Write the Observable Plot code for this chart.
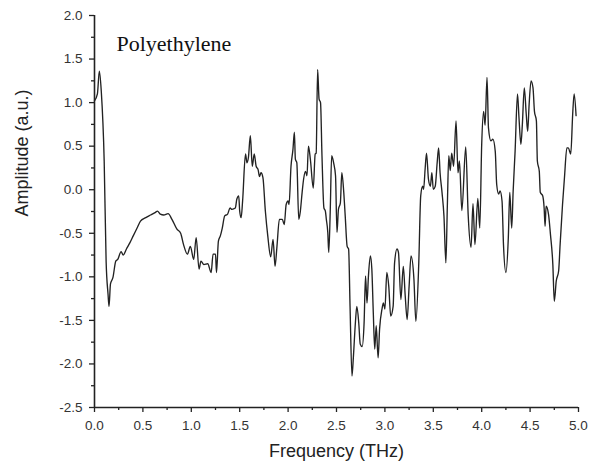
<!DOCTYPE html>
<html>
<head>
<meta charset="utf-8">
<script src="https://cdn.jsdelivr.net/npm/d3@7"></script>
<script src="https://cdn.jsdelivr.net/npm/@observablehq/plot@0.6"></script>
<style>
  html, body { margin: 0; padding: 0; background: #fff; }
</style>
</head>
<body>
<div id="chart"></div>
<script>
const title = "Polyethylene";
const xLabel = "Frequency (THz)";
const yLabel = "Amplitude (a.u.)";

const xMajorTicks = [0, 0.5, 1, 1.5, 2, 2.5, 3, 3.5, 4, 4.5, 5];
const xMinorTicks = [0.25, 0.75, 1.25, 1.75, 2.25, 2.75, 3.25, 3.75, 4.25, 4.75];
const yMajorTicks = [-2.5, -2, -1.5, -1, -0.5, 0, 0.5, 1, 1.5, 2];
const yMinorTicks = [-2.25, -1.75, -1.25, -0.75, -0.25, 0.25, 0.75, 1.25, 1.75];

const freq = [
  0.00, 0.03, 0.05, 0.07, 0.10, 0.12, 0.14, 0.15, 0.165, 0.19,
  0.22, 0.24, 0.275, 0.296, 0.33, 0.365, 0.40, 0.44, 0.475, 0.53,
  0.58, 0.63, 0.65, 0.68, 0.715, 0.76, 0.80, 0.85, 0.89, 0.92,
  0.96, 0.99, 1.025, 1.05, 1.08, 1.10, 1.13, 1.17, 1.205, 1.225,
  1.25, 1.26, 1.28, 1.30, 1.32, 1.345, 1.375, 1.40, 1.42, 1.455,
  1.47, 1.49, 1.50, 1.515, 1.53, 1.56, 1.575, 1.59, 1.61, 1.63,
  1.65, 1.67, 1.69, 1.705, 1.72, 1.74, 1.765, 1.79, 1.82, 1.845,
  1.865, 1.885, 1.91, 1.94, 1.96, 1.98, 2.00, 2.01, 2.03, 2.05,
  2.065, 2.075, 2.09, 2.11, 2.125, 2.145, 2.16, 2.18, 2.195, 2.21,
  2.23, 2.26, 2.28, 2.29, 2.305, 2.32, 2.335, 2.35, 2.37, 2.385,
  2.395, 2.41, 2.42, 2.435, 2.45, 2.47, 2.49, 2.505, 2.52, 2.54,
  2.555, 2.575, 2.59, 2.61, 2.625, 2.64, 2.66, 2.675, 2.695, 2.71,
  2.73, 2.745, 2.765, 2.785, 2.80, 2.815, 2.83, 2.85, 2.865, 2.88,
  2.895, 2.91, 2.93, 2.945, 2.97, 2.985, 3.00, 3.02, 3.04, 3.06,
  3.085, 3.10, 3.125, 3.14, 3.165, 3.19, 3.21, 3.23, 3.25, 3.27,
  3.30, 3.32, 3.35, 3.37, 3.39, 3.40, 3.415, 3.43, 3.45, 3.47,
  3.485, 3.50, 3.52, 3.54, 3.555, 3.57, 3.59, 3.61, 3.63, 3.645,
  3.66, 3.675, 3.69, 3.71, 3.735, 3.755, 3.77, 3.795, 3.835, 3.86,
  3.89, 3.91, 3.93, 3.96, 3.98, 4.00, 4.02, 4.035, 4.055, 4.07,
  4.095, 4.115, 4.14, 4.155, 4.175, 4.19, 4.21, 4.225, 4.25, 4.275,
  4.29, 4.31, 4.325, 4.345, 4.37, 4.385, 4.405, 4.42, 4.44, 4.46,
  4.475, 4.49, 4.51, 4.53, 4.545, 4.565, 4.575, 4.595, 4.605, 4.63,
  4.645, 4.655, 4.665, 4.69, 4.71, 4.735, 4.75, 4.77, 4.795, 4.81,
  4.835, 4.855, 4.88, 4.895, 4.92, 4.94, 4.955, 4.975
];

const amp = [
  1.02, 1.10, 1.36, 1.13, 0.33, -0.82, -1.20, -1.34, -1.08, -1.01,
  -0.82, -0.80, -0.71, -0.75, -0.68, -0.61, -0.53, -0.44, -0.36, -0.32,
  -0.29, -0.26, -0.245, -0.28, -0.29, -0.275, -0.34, -0.45, -0.50, -0.63,
  -0.74, -0.65, -0.80, -0.55, -0.91, -0.82, -0.86, -0.85, -0.95, -0.74,
  -0.74, -0.95, -0.59, -0.53, -0.44, -0.30, -0.28, -0.21, -0.225, -0.21,
  -0.11, -0.07, -0.245, -0.32, -0.13, 0.41, 0.31, 0.37, 0.62, 0.27,
  0.41, 0.27, 0.23, 0.15, 0.195, 0.14, -0.245, -0.53, -0.77, -0.57,
  -0.88, -0.65, -0.34, -0.34, -0.40, -0.17, -0.13, -0.17, 0.27, 0.46,
  0.66, 0.35, 0.31, -0.34, -0.26, -0.03, 0.12, 0.21, 0.16, 0.50,
  0.35, 0.02, 0.41, 0.42, 1.38, 1.04, 1.00, 0.39, -0.21, -0.245,
  -0.34, -0.49, -0.72, -0.26, 0.39, 0.31, 0.16, -0.49, -0.225, -0.15,
  0.195, -0.03, -0.30, -0.65, -0.68, -1.34, -2.14, -1.91, -1.53, -1.34,
  -1.53, -1.77, -1.80, -1.53, -0.99, -1.30, -0.99, -0.76, -0.91, -1.41,
  -1.83, -1.56, -1.93, -1.60, -1.37, -1.30, -1.37, -0.95, -1.11, -1.45,
  -1.34, -0.84, -0.68, -0.72, -1.26, -0.88, -1.22, -1.49, -1.11, -0.76,
  -1.03, -1.51, -0.84, -0.07, 0.04, 0.005, 0.23, 0.42, 0.12, 0.04,
  0.195, 0.005, 0.04, 0.31, 0.48, 0.195, -0.03, -0.30, -0.84, -0.19,
  0.39, 0.22, 0.42, 0.27, 0.79, 0.195, 0.33, -0.24, 0.49, -0.28,
  -0.66, -0.16, -0.63, -0.10, -0.44, 0.52, 0.90, 0.74, 1.29, 0.71,
  0.56, 0.58, 0.44, 0.06, -0.05, -0.015, -0.13, -0.63, -0.95, -0.55,
  -0.03, -0.44, -0.015, 0.44, 1.10, 0.83, 0.52, 0.75, 1.17, 0.87,
  0.67, 0.98, 1.25, 1.17, 0.90, 0.79, 0.33, 0.21, -0.03, -0.07,
  -0.21, -0.42, -0.19, -0.28, -0.51, -0.86, -1.28, -1.05, -0.93, -0.63,
  -0.17, 0.14, 0.48, 0.48, 0.41, 0.87, 1.10, 0.85
];

const data = freq.map((f, i) => ({f, a: amp[i]}));
const axisColor = "#222";
const fmt = d => d.toFixed(1);

const chart = Plot.plot({
  width: 590,
  height: 467,
  marginLeft: 94,
  marginRight: 12,
  marginTop: 15,
  marginBottom: 60,
  style: {fontFamily: "'Liberation Sans', Arial, sans-serif", background: "#fff", color: axisColor},
  x: {domain: [0, 5]},
  y: {domain: [-2.5, 2]},
  marks: [
    Plot.axisX({ticks: xMajorTicks, tickSize: 5, tickPadding: 8, tickFormat: fmt, fontSize: 13.5, label: null, stroke: axisColor, strokeWidth: 1.3, fill: "#333"}),
    Plot.axisX({ticks: xMinorTicks, tickSize: 3, tickFormat: () => "", label: null, stroke: axisColor, strokeWidth: 1.3}),
    Plot.axisY({ticks: yMajorTicks, tickSize: 5, tickPadding: 7, tickFormat: fmt, fontSize: 13.5, label: null, stroke: axisColor, strokeWidth: 1.3, fill: "#333"}),
    Plot.axisY({ticks: yMinorTicks, tickSize: 3, tickFormat: () => "", label: null, stroke: axisColor, strokeWidth: 1.3}),
    Plot.ruleY([-2.5], {stroke: axisColor, strokeWidth: 1.6}),
    Plot.ruleX([0], {stroke: axisColor, strokeWidth: 1.6}),
    Plot.line(data, {x: "f", y: "a", stroke: "#222", strokeWidth: 1.35, curve: "monotone-x"}),
    Plot.text([title], {frameAnchor: "top-left", dx: 22, dy: 20, textAnchor: "start", fontSize: 22, fontFamily: "'Liberation Serif', 'Times New Roman', serif", fill: "#111"}),
    Plot.text([xLabel], {frameAnchor: "bottom", dy: 49, fontSize: 18, fill: "#222"}),
    Plot.text([yLabel], {frameAnchor: "left", dx: -72, dy: 5, rotate: -90, fontSize: 18, fill: "#222"})
  ]
});
document.getElementById("chart").appendChild(chart);
</script>
</body>
</html>
